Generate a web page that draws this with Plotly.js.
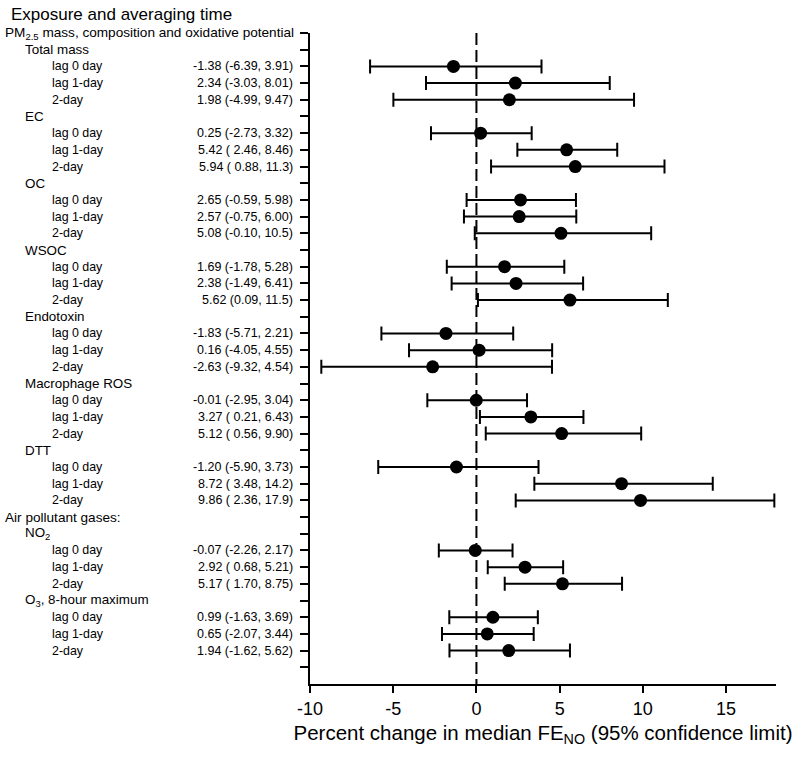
<!DOCTYPE html>
<html>
<head>
<meta charset="utf-8">
<script src="https://cdn.plot.ly/plotly-3.0.1.min.js"></script>
<style>html,body{margin:0;padding:0;background:#fff;}#chart{width:800px;height:757px;}</style>
</head>
<body>
<div id="chart"></div>
<script>
// ---- data ----
const groups = ['Total mass', 'EC', 'OC', 'WSOC', 'Endotoxin', 'Macrophage ROS', 'DTT',
                'NO<sub>2</sub>', 'O<sub>3</sub>, 8-hour maximum'];
const lagLabels = ['lag 0 day', 'lag 1-day', '2-day'];
const estimates = [-1.38, 2.34, 1.98,  0.25, 5.42, 5.94,  2.65, 2.57, 5.08,  1.69, 2.38, 5.62,
                   -1.83, 0.16, -2.63, -0.01, 3.27, 5.12, -1.20, 8.72, 9.86, -0.07, 2.92, 5.17,
                   0.99, 0.65, 1.94];
const lower = [-6.39, -3.03, -4.99, -2.73, 2.46, 0.88, -0.59, -0.75, -0.10, -1.78, -1.49, 0.09,
               -5.71, -4.05, -9.32, -2.95, 0.21, 0.56, -5.90, 3.48, 2.36, -2.26, 0.68, 1.70,
               -1.63, -2.07, -1.62];
const upper = [3.91, 8.01, 9.47, 3.32, 8.46, 11.3, 5.98, 6.00, 10.5, 5.28, 6.41, 11.5,
               2.21, 4.55, 4.54, 3.04, 6.43, 9.90, 3.73, 14.2, 17.9, 2.17, 5.21, 8.75,
               3.69, 3.44, 5.62];
const estText = ['-1.38 (-6.39, 3.91)', '2.34 (-3.03, 8.01)', '1.98 (-4.99, 9.47)',
  '0.25 (-2.73, 3.32)', '5.42 ( 2.46, 8.46)', '5.94 ( 0.88, 11.3)',
  '2.65 (-0.59, 5.98)', '2.57 (-0.75, 6.00)', '5.08 (-0.10, 10.5)',
  '1.69 (-1.78, 5.28)', '2.38 (-1.49, 6.41)', '5.62 (0.09, 11.5)',
  '-1.83 (-5.71, 2.21)', '0.16 (-4.05, 4.55)', '-2.63 (-9.32, 4.54)',
  '-0.01 (-2.95, 3.04)', '3.27 ( 0.21, 6.43)', '5.12 ( 0.56, 9.90)',
  '-1.20 (-5.90, 3.73)', '8.72 ( 3.48, 14.2)', '9.86 ( 2.36, 17.9)',
  '-0.07 (-2.26, 2.17)', '2.92 ( 0.68, 5.21)', '5.17 ( 1.70, 8.75)',
  '0.99 (-1.63, 3.69)', '0.65 (-2.07, 3.44)', '1.94 (-1.62, 5.62)'];
const header1 = 'PM<sub>2.5</sub> mass, composition and oxidative potential';
const header2 = 'Air pollutant gases:';
const xTicks = [-10, -5, 0, 5, 10, 15];

// ---- layout geometry ----
const W = 800, H = 757;
const mL = 310, mR = 24, mT = 33, mB = 73;
const pw = W - mL - mR, ph = H - mT - mB;
const px2paper = p => (p - mL) / pw;
const py2paper = p => (H - mB - p) / ph;
const FONT = 'Liberation Sans, Arial, sans-serif';

// build rows
const rows = [];
rows.push({level: 0, text: header1});
groups.forEach((g, gi) => {
  if (gi === 7) rows.push({level: 0, text: header2});
  rows.push({level: 1, text: g});
  lagLabels.forEach((l, li) => rows.push({level: 2, text: l, idx: gi * 3 + li}));
});
rows.push({level: 3, text: ''});

const ys = [], xs = [], ep = [], em = [];
const annotations = [];
const indent = [3, 23, 50];
const fsize = [13.6, 13.4, 12.4];
rows.forEach((r, i) => {
  const y = i + 1;
  if (r.level < 3) {
    annotations.push({xref: 'paper', yref: 'y', x: px2paper(indent[r.level]), y: y,
      text: r.text, showarrow: false, xanchor: 'left', yanchor: 'middle',
      font: {family: FONT, size: fsize[r.level], color: '#000'}});
  }
  if (r.idx !== undefined) {
    const k = r.idx;
    ys.push(y); xs.push(estimates[k]);
    ep.push(upper[k] - estimates[k]); em.push(estimates[k] - lower[k]);
    annotations.push({xref: 'paper', yref: 'y', x: px2paper(295), y: y,
      text: estText[k], showarrow: false, xanchor: 'right', yanchor: 'middle',
      font: {family: FONT, size: 12.5, color: '#000'}});
  }
});
const nRows = rows.length; // 39
annotations.push({xref: 'paper', yref: 'paper', x: px2paper(9), y: py2paper(15),
  text: 'Exposure and averaging time', showarrow: false, xanchor: 'left', yanchor: 'middle',
  font: {family: FONT, size: 17, color: '#000'}});

const trace = {
  type: 'scatter', mode: 'markers', x: xs, y: ys,
  marker: {color: '#000', size: 13, symbol: 'circle'},
  error_x: {type: 'data', symmetric: false, array: ep, arrayminus: em,
            color: '#000', thickness: 2, width: 7},
  cliponaxis: false, hoverinfo: 'skip'
};

const tickY = [];
for (let i = 1; i <= nRows; i++) tickY.push(i);

const layout = {
  width: W, height: H,
  margin: {l: mL, r: mR, t: mT, b: mB, pad: 0},
  paper_bgcolor: '#fff', plot_bgcolor: '#fff',
  showlegend: false,
  font: {family: FONT, color: '#000'},
  xaxis: {
    range: [-10, 18], tickvals: xTicks, ticktext: xTicks.map(String),
    showgrid: false, zeroline: false, showline: true, linecolor: '#000', linewidth: 2,
    ticks: 'outside', ticklen: 7, tickwidth: 2, tickcolor: '#000',
    tickfont: {size: 18, color: '#000'},
    title: {text: 'Percent change in median FE<sub>NO</sub> (95% confidence limit)',
            font: {size: 20.5, color: '#000'}, standoff: 8},
    fixedrange: true
  },
  yaxis: {
    range: [nRows + 1, 1], tickvals: tickY, showticklabels: false,
    showgrid: false, zeroline: false, showline: true, linecolor: '#000', linewidth: 2,
    ticks: 'outside', ticklen: 8, tickwidth: 2, tickcolor: '#000',
    fixedrange: true
  },
  shapes: [{type: 'line', xref: 'x', yref: 'y', x0: 0, x1: 0, y0: 1, y1: nRows + 1,
            line: {color: '#000', width: 2, dash: '12px,5px'}}],
  annotations: annotations
};

Plotly.newPlot('chart', [trace], layout, {staticPlot: true, displayModeBar: false});
</script>
</body>
</html>
